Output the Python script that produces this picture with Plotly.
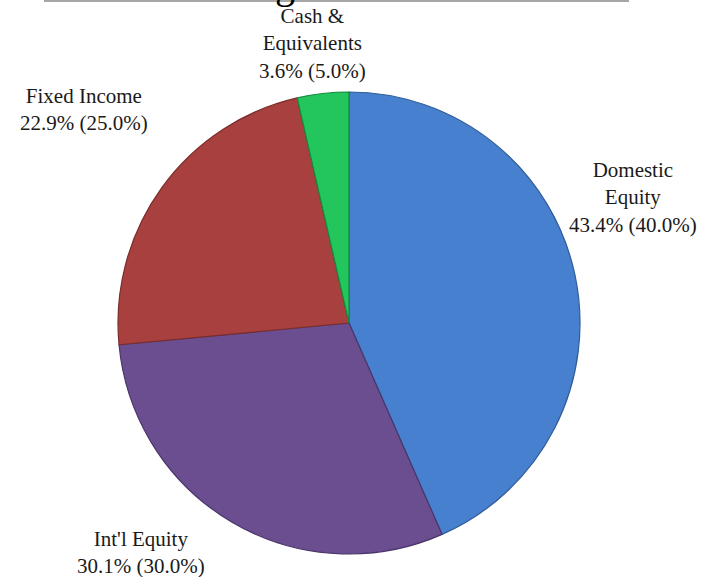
import plotly.graph_objects as go

W, H = 707, 577

categories = ["Domestic Equity", "Int'l Equity", "Fixed Income", "Cash & Equivalents"]
actual_pct = [43.4, 30.1, 22.9, 3.6]
target_pct = [40.0, 30.0, 25.0, 5.0]
label_lines = [["Domestic", "Equity"], ["Int'l Equity"], ["Fixed Income"], ["Cash &", "Equivalents"]]
colors = ["#4680cf", "#6a4e8f", "#a8403f", "#22c65c"]
edge_colors = ["#2f5c99", "#4a356a", "#7a2c2b", "#138a3c"]

# label anchor positions (pixel centres)
label_pos = [(633, 197), (141, 552), (84, 110), (312, 43)]

cx, cy, r = 349, 323, 231

fig = go.Figure(go.Pie(
    labels=categories,
    values=actual_pct,
    sort=False,
    direction="clockwise",
    rotation=0,
    marker=dict(colors=colors, line=dict(color=edge_colors, width=1.2)),
    textinfo="none",
    hoverinfo="label+percent",
    showlegend=False,
    domain=dict(x=[(cx - r) / W, (cx + r) / W], y=[1 - (cy + r) / H, 1 - (cy - r) / H]),
))

annotations = []
for lines, a, t, (px, py) in zip(label_lines, actual_pct, target_pct, label_pos):
    text = "<br>".join(lines + [f"{a:.1f}% ({t:.1f}%)"])
    annotations.append(dict(
        x=px / W, y=1 - py / H, xref="paper", yref="paper",
        text=text, showarrow=False, align="center",
        xanchor="center", yanchor="middle",
        font=dict(family="Liberation Serif, serif", size=21, color="#1a1a1a"),
    ))

# remnant of the cut-off title
annotations.append(dict(
    x=285 / W, y=1, xref="paper", yref="paper", text="g", showarrow=False,
    xanchor="center", yanchor="bottom", yshift=-9,
    font=dict(family="Liberation Serif, serif", size=40, color="#000000"),
))

fig.update_layout(
    width=W, height=H,
    margin=dict(l=0, r=0, t=0, b=0),
    paper_bgcolor="white", plot_bgcolor="white",
    annotations=annotations,
    shapes=[dict(type="line", xref="paper", yref="paper",
                 x0=44 / W, x1=629 / W, y0=1 - 1 / H, y1=1 - 1 / H,
                 line=dict(color="#a6a6a6", width=2))],
)

fig.write_html("out.html")
